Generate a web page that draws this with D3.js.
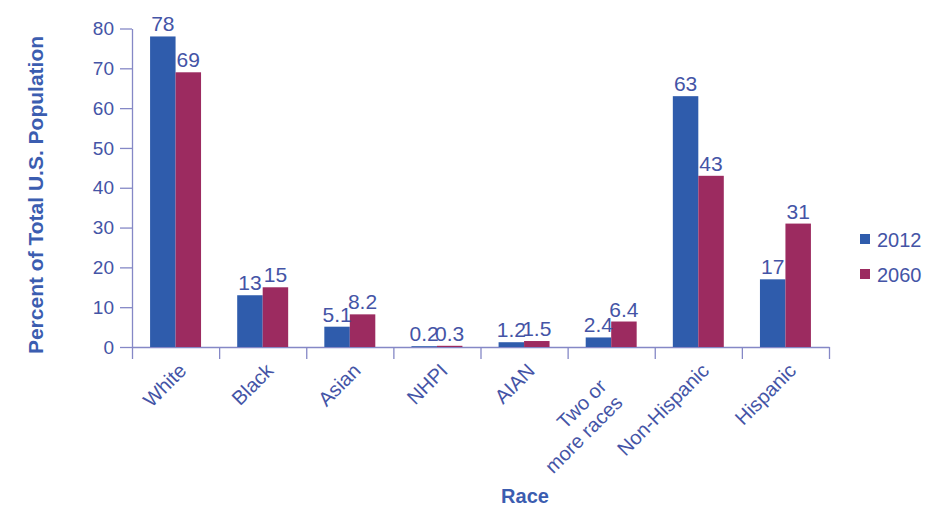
<!DOCTYPE html>
<html>
<head>
<meta charset="utf-8">
<script src="https://cdn.jsdelivr.net/npm/d3@7"></script>
<style>
  body { margin: 0; background: #fff; }
  text { font-family: "Liberation Sans", Arial, sans-serif; }
</style>
</head>
<body>
<svg id="chart"></svg>
<script>
// categories and series
const categories = ['White', 'Black', 'Asian', 'NHPI', 'AIAN', 'Two or more races', 'Non-Hispanic', 'Hispanic'];
const catLines = [['White'], ['Black'], ['Asian'], ['NHPI'], ['AIAN'], ['Two or', 'more races'], ['Non-Hispanic'], ['Hispanic']];
const years = ['2012', '2060'];
const values2012 = [78, 13, 5.1, 0.2, 1.2, 2.4, 63, 17];
const values2060 = [69, 15, 8.2, 0.3, 1.5, 6.4, 43, 31];
const yTicks = [0, 10, 20, 30, 40, 50, 60, 70, 80];

const colors = {'2012': '#2f5cac', '2060': '#9c2b60'};
const textColor = '#4454a6';
const titleColor = '#3b5db0';
const axisColor = '#8588c6';

const W = 927, H = 506;
const plotLeft = 132, plotRight = 829, plotTop = 28.5, plotBottom = 347;

const svg = d3.select('#chart')
.attr('width', W)
.attr('height', H);

const data = categories.map((c, i) => ({cat: c, lines: catLines[i], v: {'2012': values2012[i], '2060': values2060[i]}}));

const x = d3.scaleBand()
.domain(categories)
.range([plotLeft, plotRight])
.paddingInner(0.415)
.paddingOuter(0.2075);

const xSub = d3.scaleBand()
.domain(years)
.range([0, x.bandwidth()]);

const y = d3.scaleLinear()
.domain([0, 80])
.range([plotBottom, plotTop]);

// x axis: ticks at category boundaries
const xEdge = d3.scaleLinear().domain([0, categories.length]).range([plotLeft, plotRight]);
const gx = svg.append('g')
.attr('transform', `translate(0, ${plotBottom})`)
.call(d3.axisBottom(xEdge).tickValues(d3.range(categories.length + 1)).tickFormat('').tickSize(12).tickSizeOuter(0));
gx.selectAll('path, line').attr('stroke', axisColor).attr('stroke-width', 1.3);

const gy = svg.append('g')
.attr('transform', `translate(${plotLeft}, 0)`)
.call(d3.axisLeft(y).tickValues(yTicks).tickSize(12).tickSizeOuter(0).tickPadding(6));
gy.selectAll('path, line').attr('stroke', axisColor).attr('stroke-width', 1.3);
gy.selectAll('text')
.style('font-size', '19px')
.style('fill', textColor);

// bars
const groups = svg.selectAll('.grp')
.data(data)
.enter()
.append('g')
.attr('transform', d => `translate(${x(d.cat)}, 0)`);

groups.selectAll('rect')
.data(d => years.map(yr => ({yr, val: d.v[yr]})))
.enter()
.append('rect')
.attr('x', d => xSub(d.yr))
.attr('y', d => y(d.val))
.attr('width', xSub.bandwidth())
.attr('height', d => plotBottom - y(d.val))
.attr('fill', d => colors[d.yr]);

groups.selectAll('.val')
.data(d => years.map(yr => ({yr, val: d.v[yr]})))
.enter()
.append('text')
.attr('x', d => xSub(d.yr) + xSub.bandwidth() / 2)
.attr('y', d => y(d.val) - 5)
.attr('text-anchor', 'middle')
.style('font-size', '21px')
.style('fill', textColor)
.text(d => d.val);

// category labels, rotated
data.forEach(d => {
  const cx = x(d.cat) + x.bandwidth() / 2;
  const t = svg.append('text')
  .attr('transform', `translate(${cx + 12}, 372) rotate(-45)`)
  .attr('text-anchor', 'end')
  .style('font-size', '20px')
  .style('fill', textColor);
  if (d.lines.length === 1) {
    t.text(d.lines[0]);
  } else {
    // two-line label sits a bit further back along the slant
    d.lines.forEach((ln, i) => {
      t.append('tspan')
      .attr('x', -22)
      .attr('dy', i === 0 ? 0 : '1.15em')
      .text(ln);
    });
  }
});

// axis titles
svg.append('text')
.attr('transform', 'rotate(-90)')
.attr('x', -195)
.attr('y', 43)
.attr('text-anchor', 'middle')
.style('font-size', '21px')
.style('font-weight', 'bold')
.style('fill', titleColor)
.text('Percent of Total U.S. Population');

svg.append('text')
.attr('x', 525)
.attr('y', 503)
.attr('text-anchor', 'middle')
.style('font-size', '20px')
.style('font-weight', 'bold')
.style('fill', titleColor)
.text('Race');

// legend
years.forEach((yr, i) => {
  svg.append('rect')
  .attr('x', 860)
  .attr('y', 234 + i * 35)
  .attr('width', 10)
  .attr('height', 10)
  .attr('fill', colors[yr]);
  svg.append('text')
  .attr('x', 877)
  .attr('y', 247 + i * 35)
  .style('font-size', '20px')
  .style('fill', textColor)
  .text(yr);
});
</script>
</body>
</html>
